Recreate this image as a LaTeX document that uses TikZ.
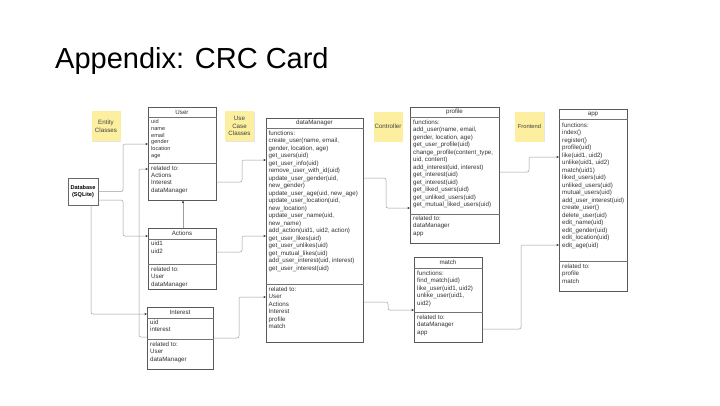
\documentclass[tikz,border=0pt]{standalone}
\usepackage{fontspec}
\setmainfont{Liberation Sans}
\usepackage{tikz}
\usetikzlibrary{arrows.meta,shadows}
\definecolor{notey}{HTML}{FDEFA0}

\tikzset{
	card/.style={draw=black!65,line width=0.6pt,inner sep=0pt,anchor=north west},
	sep/.style={draw=black!55,line width=0.9pt},
	ttl/.style={font=\fontsize{6.2}{7.5}\selectfont,text=black!80,inner sep=0pt},
	txt/.style={font=\fontsize{6.2}{7.5}\selectfont,text=black!80,align=left,inner sep=0pt,anchor=north west},
	note/.style={fill=notey,minimum width=29pt,minimum height=30pt,inner sep=0pt,align=center,
		font=\fontsize{6.2}{7.6}\selectfont,text=black!75,
		drop shadow={opacity=0.2,shadow xshift=0.6pt,shadow yshift=-0.9pt}},
	link/.style={draw=black!38,line width=0.5pt,rounded corners=2pt,
		-{Stealth[length=2.6pt,width=2.2pt,color=black!80]}}
}

\begin{document}
\begin{tikzpicture}[x=1pt,y=-1pt]
	\fill[white] (0,0) rectangle (720,405);
	\useasboundingbox (0,0) rectangle (720,405);
	\node[anchor=base west,inner sep=0pt,font=\fontsize{29}{31}\selectfont] (title) at (55,68) {Appendix: CRC Card};

	% sticky notes
	\node[note] (n1) at (106,126) {Entity\\Classes};
	\node[note] (n2) at (239.5,126) {Use\\Case\\Classes};
	\node[note] (n3) at (388,126.5) {Controller};
	\node[note,font=\fontsize{5.8}{7}\selectfont] (n4) at (529.5,126.5) {Frontend};

	% database
	\node[draw=black!60,line width=0.6pt,minimum width=30pt,minimum height=27pt,inner sep=0pt,align=center,
		font=\fontsize{5.6}{7.5}\selectfont\bfseries] (db) at (83,191.5) {Database\\(SQLite)};

	% User
	\node[card,minimum width=68pt,minimum height=93pt] (user) at (148,107) {};
	\draw[sep] (user.west |- 0,117) -- (user.east |- 0,117);
	\draw[sep] (user.west |- 0,163) -- (user.east |- 0,163);
	\node[ttl] (user-t) at (182,112) {User};
	\node[txt,font=\fontsize{5.6}{6.7}\selectfont] (user-a) at (151,119.5) {uid\\name\\email\\gender\\location\\age};
	\node[txt,font=\fontsize{6.2}{7.3}\selectfont] (user-r) at (151,165.5) {related to:\\Actions\\Interest\\dataManager};

	% Actions
	\node[card,minimum width=68pt,minimum height=61pt] (actions) at (148,228) {};
	\draw[sep] (actions.west |- 0,239) -- (actions.east |- 0,239);
	\draw[sep] (actions.west |- 0,264) -- (actions.east |- 0,264);
	\node[ttl] (actions-t) at (182,233.5) {Actions};
	\node[txt,font=\fontsize{6.2}{8}\selectfont] (actions-a) at (151,240.5) {uid1\\uid2};
	\node[txt] (actions-r) at (151,266.5) {related to:\\User\\dataManager};

	% Interest
	\node[card,minimum width=66pt,minimum height=62pt] (interest) at (147,307) {};
	\draw[sep] (interest.west |- 0,318) -- (interest.east |- 0,318);
	\draw[sep] (interest.west |- 0,339) -- (interest.east |- 0,339);
	\node[ttl] (interest-t) at (180,312.5) {Interest};
	\node[txt] (interest-a) at (150,319.5) {uid\\interest};
	\node[txt] (interest-r) at (150,341.5) {related to:\\User\\dataManager};

	% dataManager
	\node[card,minimum width=97pt,minimum height=224pt] (dm) at (266,118) {};
	\draw[sep] (dm.west |- 0,128) -- (dm.east |- 0,128);
	\draw[sep] (dm.west |- 0,284) -- (dm.east |- 0,284);
	\node[ttl] (dm-t) at (314.5,123) {dataManager};
	\node[txt] (dm-f) at (268.5,130.5) {functions:\\create\_user(name, email,\\gender, location, age)\\get\_users(uid)\\get\_user\_info(uid)\\remove\_user\_with\_id(uid)\\update\_user\_gender(uid,\\new\_gender)\\update\_user\_age(uid, new\_age)\\update\_user\_location(uid,\\new\_location)\\update\_user\_name(uid,\\new\_name)\\add\_action(uid1, uid2, action)\\get\_user\_likes(uid)\\get\_user\_unlikes(uid)\\get\_mutual\_likes(uid)\\add\_user\_interest(uid, interest)\\get\_user\_interest(uid)};
	\node[txt] (dm-r) at (268.5,286.5) {related to:\\User\\Actions\\Interest\\profile\\match};

	% profile
	\node[card,minimum width=89pt,minimum height=136pt] (profile) at (410,107) {};
	\draw[sep] (profile.west |- 0,117) -- (profile.east |- 0,117);
	\draw[sep] (profile.west |- 0,214) -- (profile.east |- 0,214);
	\node[ttl] (profile-t) at (454.5,112) {profile};
	\node[txt] (profile-f) at (413,119.5) {functions:\\add\_user(name, email,\\gender, location, age)\\get\_user\_profile(uid)\\change\_profile(content\_type,\\uid, content)\\add\_interest(uid, interest)\\get\_interest(uid)\\get\_interest(uid)\\get\_liked\_users(uid)\\get\_unliked\_users(uid)\\get\_mutual\_liked\_users(uid)};
	\node[txt] (profile-r) at (413,215.5) {related to:\\dataManager\\app};

	% match
	\node[card,minimum width=68pt,minimum height=85pt] (match) at (414,257) {};
	\draw[sep] (match.west |- 0,268) -- (match.east |- 0,268);
	\draw[sep] (match.west |- 0,312) -- (match.east |- 0,312);
	\node[ttl] (match-t) at (448,262.5) {match};
	\node[txt] (match-f) at (417,270.5) {functions:\\find\_match(uid)\\like\_user(uid1, uid2)\\unlike\_user(uid1,\\uid2)};
	\node[txt] (match-r) at (417,314.5) {related to:\\dataManager\\app};

	% app
	\node[card,minimum width=68pt,minimum height=182pt] (app) at (559,109) {};
	\draw[sep] (app.west |- 0,119) -- (app.east |- 0,119);
	\draw[sep] (app.west |- 0,261) -- (app.east |- 0,261);
	\node[ttl] (app-t) at (593,114) {app};
	\node[txt] (app-f) at (562,122.5) {functions:\\index()\\register()\\profile(uid)\\like(uid1, uid2)\\unlike(uid1, uid2)\\match(uid1)\\liked\_users(uid)\\unliked\_users(uid)\\mutual\_users(uid)\\add\_user\_interest(uid)\\create\_user()\\delete\_user(uid)\\edit\_name(uid)\\edit\_gender(uid)\\edit\_location(uid)\\edit\_age(uid)};
	\node[txt] (app-r) at (562,263.5) {related to:\\profile\\match};

	% links
	\draw[link] (db.east) -- (123,191.5) -- (123,144) -- (user.west |- 0,144);
	\draw[link] (db.east |- 0,200) -- (123,200) -- (123,236) -- (actions.west |- 0,236);
	\draw[link] (db.south -| 91,0) -- (91,314) -- (interest.west |- 0,314);
	\draw[link] (interest.west |- 0,337) -- (139,337) -- (139,169) -- (user.west |- 0,169);
	\draw[link] (actions.north -| 183,0) -- (user.south -| 183,0);
	\draw[link] (user.east |- 0,182) -- (242,182) -- (242,160) -- (dm.west |- 0,160);
	\draw[link] (actions.east |- 0,252) -- (242,252) -- (242,236) -- (dm.west |- 0,236);
	\draw[link] (interest.east |- 0,338) -- (239,338) -- (239,297) -- (dm.west |- 0,297);
	\draw[link] (dm.east |- 0,178) -- (386,178) -- (386,208) -- (profile.west |- 0,208);
	\draw[link] (dm.east |- 0,302) -- (388,302) -- (388,310) -- (match.west |- 0,310);
	\draw[link] (profile.east |- 0,172) -- (529,172) -- (529,157) -- (app.west |- 0,157);
	\draw[link] (match.east |- 0,329) -- (521,329) -- (521,245) -- (app.west |- 0,245);
\end{tikzpicture}
\end{document}
